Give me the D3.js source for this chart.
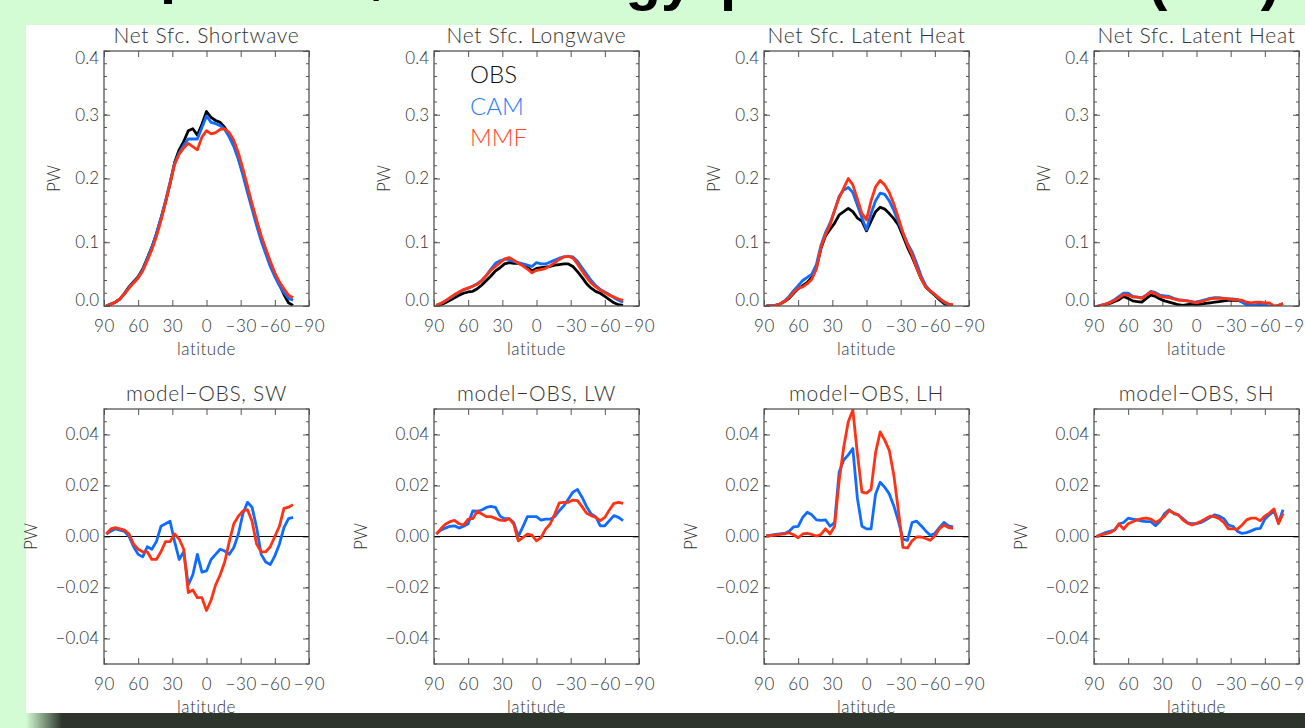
<!DOCTYPE html>
<html>
<head>
<meta charset="utf-8">
<script src="https://cdn.jsdelivr.net/npm/d3@7/dist/d3.min.js"></script>
<style>
  body { margin: 0; background: #d4fcd4; overflow: hidden; }
  svg { display: block; }
  .lbl { font-family: Lato, "DejaVu Sans", sans-serif; font-weight: 300; }
</style>
</head>
<body>
<svg id="chart" width="1305" height="728"></svg>
<script>
// latitude grid (deg), north to south
const lats = [88, 84, 80, 76, 72, 68, 64, 60, 56, 52, 48, 44, 40, 36, 32, 28, 24, 20, 16, 12, 8, 4,
              0, -4, -8, -12, -16, -20, -24, -28, -32, -36, -40, -44, -48, -52, -56, -60, -64, -68, -72, -76];

// Net surface shortwave (PW)
const swObs = [0.000, 0.003, 0.006, 0.011, 0.020, 0.030, 0.038, 0.046, 0.058, 0.075, 0.092, 0.113, 0.137, 0.163,
               0.192, 0.225, 0.245, 0.258, 0.275, 0.278, 0.268, 0.285, 0.305, 0.296, 0.291, 0.288, 0.280, 0.268,
               0.252, 0.232, 0.208, 0.182, 0.157, 0.132, 0.108, 0.088, 0.068, 0.050, 0.034, 0.018, 0.005, 0.001];
const swCam = [0.000, 0.003, 0.006, 0.011, 0.019, 0.029, 0.037, 0.045, 0.057, 0.074, 0.092, 0.113, 0.138, 0.165,
               0.194, 0.224, 0.240, 0.252, 0.262, 0.262, 0.262, 0.280, 0.298, 0.288, 0.286, 0.283, 0.277, 0.265,
               0.250, 0.230, 0.205, 0.178, 0.152, 0.126, 0.102, 0.082, 0.062, 0.046, 0.032, 0.021, 0.012, 0.009];
const swMmf = [0.000, 0.003, 0.006, 0.011, 0.019, 0.028, 0.036, 0.044, 0.055, 0.071, 0.088, 0.109, 0.134, 0.162,
               0.192, 0.222, 0.238, 0.248, 0.255, 0.250, 0.245, 0.265, 0.275, 0.270, 0.272, 0.277, 0.278, 0.272,
               0.260, 0.240, 0.215, 0.188, 0.160, 0.135, 0.110, 0.090, 0.070, 0.052, 0.038, 0.027, 0.017, 0.013];

// Net surface longwave (PW)
const lwObs = [0.000, 0.002, 0.005, 0.009, 0.013, 0.017, 0.020, 0.022, 0.023, 0.027, 0.033, 0.040, 0.047, 0.055,
               0.060, 0.066, 0.068, 0.067, 0.067, 0.065, 0.061, 0.055, 0.059, 0.060, 0.061, 0.062, 0.064, 0.065,
               0.066, 0.066, 0.062, 0.054, 0.045, 0.035, 0.028, 0.023, 0.020, 0.015, 0.010, 0.005, 0.002, 0.001];
const lwCam = [0.001, 0.004, 0.008, 0.012, 0.017, 0.021, 0.025, 0.028, 0.031, 0.035, 0.040, 0.048, 0.058, 0.067,
               0.071, 0.073, 0.073, 0.070, 0.068, 0.066, 0.064, 0.062, 0.068, 0.066, 0.066, 0.069, 0.072, 0.075,
               0.077, 0.078, 0.077, 0.070, 0.060, 0.050, 0.040, 0.032, 0.026, 0.022, 0.018, 0.013, 0.009, 0.006];
const lwMmf = [0.001, 0.004, 0.008, 0.013, 0.018, 0.022, 0.026, 0.028, 0.031, 0.034, 0.040, 0.048, 0.056, 0.062,
               0.068, 0.074, 0.076, 0.072, 0.067, 0.063, 0.058, 0.052, 0.056, 0.057, 0.059, 0.063, 0.068, 0.073,
               0.077, 0.078, 0.075, 0.066, 0.055, 0.045, 0.036, 0.030, 0.025, 0.021, 0.017, 0.014, 0.011, 0.009];

// Net surface latent heat (PW)
const lhObs = [0.000, 0.000, 0.001, 0.003, 0.007, 0.012, 0.020, 0.027, 0.032, 0.037, 0.045, 0.060, 0.090, 0.110,
               0.120, 0.130, 0.143, 0.148, 0.153, 0.148, 0.138, 0.133, 0.118, 0.133, 0.148, 0.155, 0.152, 0.145,
               0.137, 0.127, 0.110, 0.092, 0.077, 0.060, 0.043, 0.030, 0.023, 0.017, 0.010, 0.004, 0.000, -0.001];
const lhCam = [0.000, 0.000, 0.001, 0.003, 0.008, 0.015, 0.024, 0.032, 0.040, 0.045, 0.050, 0.065, 0.095, 0.115,
               0.130, 0.150, 0.172, 0.182, 0.186, 0.178, 0.158, 0.138, 0.120, 0.145, 0.165, 0.177, 0.175, 0.165,
               0.150, 0.132, 0.115, 0.098, 0.085, 0.067, 0.047, 0.032, 0.024, 0.018, 0.012, 0.006, 0.002, 0.001];
const lhMmf = [0.000, 0.000, 0.001, 0.003, 0.007, 0.013, 0.021, 0.028, 0.030, 0.035, 0.042, 0.058, 0.092, 0.112,
               0.127, 0.150, 0.170, 0.185, 0.200, 0.190, 0.168, 0.145, 0.135, 0.165, 0.187, 0.197, 0.190, 0.178,
               0.160, 0.138, 0.115, 0.096, 0.080, 0.060, 0.043, 0.030, 0.024, 0.018, 0.012, 0.007, 0.003, 0.002];

// fourth panel (sensible heat, titled as in the original) (PW)
const shObs = [-0.001, 0.000, 0.002, 0.004, 0.007, 0.010, 0.015, 0.012, 0.008, 0.007, 0.006, 0.012, 0.017, 0.015,
               0.011, 0.008, 0.006, 0.004, 0.002, 0.001, 0.002, 0.003, 0.002, 0.003, 0.004, 0.005, 0.006, 0.007,
               0.008, 0.009, 0.009, 0.009, 0.007, 0.003, 0.000, 0.001, 0.002, 0.000, -0.001, -0.002, -0.002, -0.002];
const shCam = [-0.001, 0.001, 0.003, 0.006, 0.010, 0.015, 0.020, 0.020, 0.015, 0.014, 0.013, 0.017, 0.023, 0.021,
               0.017, 0.016, 0.015, 0.012, 0.010, 0.009, 0.008, 0.006, 0.006, 0.008, 0.010, 0.012, 0.013, 0.013,
               0.012, 0.011, 0.011, 0.010, 0.006, 0.002, 0.001, 0.002, 0.003, 0.002, 0.000, -0.001, 0.001, 0.004];
const shMmf = [-0.001, 0.001, 0.003, 0.005, 0.009, 0.013, 0.018, 0.017, 0.014, 0.014, 0.012, 0.017, 0.022, 0.019,
               0.015, 0.014, 0.013, 0.011, 0.009, 0.009, 0.008, 0.007, 0.005, 0.007, 0.009, 0.011, 0.012, 0.012,
               0.012, 0.011, 0.010, 0.010, 0.009, 0.006, 0.005, 0.006, 0.006, 0.005, 0.005, 0.000, 0.001, 0.004];

// model - OBS differences (PW)
const dSwCam = [0.0010, 0.0020, 0.0030, 0.0025, 0.0020, 0.0000, -0.0040, -0.0070, -0.0080, -0.0040, -0.0050, -0.0020,
                0.0040, 0.0050, 0.0060, -0.0020, -0.0090, -0.0060, -0.0190, -0.0150, -0.0070, -0.0140, -0.0135, -0.0090,
                -0.0070, -0.0050, -0.0057, -0.0070, -0.0043, 0.0010, 0.0090, 0.0134, 0.0115, 0.0035, -0.0070, -0.0100,
                -0.0110, -0.0076, -0.0030, 0.0035, 0.0070, 0.0075];
const dSwMmf = [0.0010, 0.0030, 0.0035, 0.0030, 0.0025, 0.0010, -0.0030, -0.0050, -0.0060, -0.0060, -0.0090, -0.0090,
                -0.0060, -0.0020, -0.0020, 0.0010, -0.0010, -0.0050, -0.0220, -0.0210, -0.0240, -0.0240, -0.0290, -0.0250,
                -0.0190, -0.0150, -0.0100, -0.0020, 0.0050, 0.0080, 0.0100, 0.0105, 0.0060, -0.0030, -0.0060, -0.0060,
                -0.0040, 0.0000, 0.0040, 0.0110, 0.0115, 0.0125];
const dLwCam = [0.0010, 0.0025, 0.0033, 0.0040, 0.0042, 0.0033, 0.0040, 0.0050, 0.0100, 0.0099, 0.0104, 0.0114,
                0.0118, 0.0114, 0.0080, 0.0070, 0.0070, 0.0055, 0.0000, 0.0038, 0.0078, 0.0078, 0.0078, 0.0064,
                0.0068, 0.0068, 0.0078, 0.0101, 0.0120, 0.0147, 0.0174, 0.0184, 0.0154, 0.0117, 0.0088, 0.0078,
                0.0042, 0.0042, 0.0062, 0.0082, 0.0075, 0.0062];
const dLwMmf = [0.0010, 0.0030, 0.0048, 0.0058, 0.0063, 0.0050, 0.0045, 0.0068, 0.0070, 0.0099, 0.0088, 0.0078,
                0.0078, 0.0071, 0.0064, 0.0062, 0.0070, 0.0049, -0.0017, -0.0004, 0.0009, 0.0005, -0.0017, -0.0004,
                0.0029, 0.0049, 0.0088, 0.0132, 0.0134, 0.0134, 0.0143, 0.0141, 0.0117, 0.0091, 0.0082, 0.0075,
                0.0062, 0.0075, 0.0104, 0.0130, 0.0134, 0.0130];
const dLhCam = [0.0003, 0.0005, 0.0008, 0.0010, 0.0012, 0.0020, 0.0038, 0.0040, 0.0075, 0.0095, 0.0085, 0.0065,
                0.0063, 0.0065, 0.0040, 0.0055, 0.0253, 0.0300, 0.0320, 0.0345, 0.0150, 0.0040, 0.0030, 0.0030,
                0.0167, 0.0213, 0.0193, 0.0167, 0.0120, 0.0060, -0.0010, -0.0015, 0.0055, 0.0060, 0.0042, 0.0022,
                0.0005, 0.0012, 0.0035, 0.0055, 0.0042, 0.0038];
const dLhMmf = [0.0002, 0.0004, 0.0005, 0.0008, 0.0010, 0.0015, 0.0007, -0.0005, 0.0010, 0.0012, 0.0008, 0.0002,
                0.0008, 0.0030, 0.0010, 0.0040, 0.0220, 0.0350, 0.0450, 0.0496, 0.0325, 0.0174, 0.0170, 0.0185,
                0.0330, 0.0410, 0.0378, 0.0338, 0.0240, 0.0101, -0.0043, -0.0045, -0.0017, -0.0002, -0.0002, -0.0008,
                -0.0015, 0.0002, 0.0030, 0.0045, 0.0035, 0.0032];
const dShCam = [0.0000, 0.0008, 0.0015, 0.0020, 0.0025, 0.0050, 0.0055, 0.0072, 0.0068, 0.0065, 0.0060, 0.0058,
                0.0058, 0.0042, 0.0060, 0.0090, 0.0105, 0.0090, 0.0085, 0.0070, 0.0055, 0.0050, 0.0050, 0.0055,
                0.0065, 0.0075, 0.0085, 0.0080, 0.0070, 0.0045, 0.0040, 0.0020, 0.0012, 0.0015, 0.0022, 0.0030,
                0.0032, 0.0068, 0.0085, 0.0100, 0.0055, 0.0105];
const dShMmf = [0.0000, 0.0006, 0.0010, 0.0015, 0.0025, 0.0049, 0.0029, 0.0050, 0.0058, 0.0065, 0.0070, 0.0072,
                0.0068, 0.0055, 0.0065, 0.0080, 0.0102, 0.0092, 0.0085, 0.0065, 0.0052, 0.0045, 0.0052, 0.0060,
                0.0070, 0.0080, 0.0078, 0.0070, 0.0055, 0.0030, 0.0030, 0.0029, 0.0045, 0.0065, 0.0072, 0.0072,
                0.0062, 0.0080, 0.0092, 0.0108, 0.0050, 0.0090];

// slide title (cut off by the page top); word pieces, where each starts, and its baseline
const titleWords = ["Comparison,", "total", "energy", "partition", "of heat", "(PW)"];
const titleWordX = [31, 395, 503, 720, 1000, 1148];
const titleWordY = [-8, -8, -1, -1, -1, -1];

const topTitles = ["Net Sfc. Shortwave", "Net Sfc. Longwave", "Net Sfc. Latent Heat", "Net Sfc. Latent Heat"];
const diffTitles = ["model\u2212OBS, SW", "model\u2212OBS, LW", "model\u2212OBS, LH", "model\u2212OBS, SH"];
const legendNames = ["OBS", "CAM", "MMF"];
const xTicks = [90, 60, 30, 0, -30, -60, -90];
const topYTicks = [0, 0.1, 0.2, 0.3, 0.4];
const diffYTicks = [-0.04, -0.02, 0, 0.02, 0.04];

const lineColors = ["#000000", "#0f6cff", "#ff3314"];
const legendColors = ["#111111", "#2a7dff", "#ff4a2c"];

const topSeries = [[swObs, swCam, swMmf], [lwObs, lwCam, lwMmf], [lhObs, lhCam, lhMmf], [shObs, shCam, shMmf]];
const diffSeries = [[null, dSwCam, dSwMmf], [null, dLwCam, dLwMmf], [null, dLhCam, dLhMmf], [null, dShCam, dShMmf]];

const svg = d3.select("#chart");
const W = 1305, H = 728;

// page: green background, white sheet, dark shadow at the bottom
const defs = svg.append("defs");
const grad = defs.append("linearGradient").attr("id", "shade").attr("x1", 0).attr("x2", 1);
grad.append("stop").attr("offset", "0%").attr("stop-color", "#d4fcd4");
grad.append("stop").attr("offset", "100%").attr("stop-color", "#2c342c");

svg.append("rect").attr("width", W).attr("height", H).attr("fill", "#d4fcd4");
svg.append("rect").attr("x", 26).attr("y", 25).attr("width", W - 26).attr("height", 688).attr("fill", "#ffffff");
svg.append("rect").attr("x", 60).attr("y", 713).attr("width", W - 60).attr("height", 15).attr("fill", "#2c342c");
svg.append("rect").attr("x", 26).attr("y", 713).attr("width", 36).attr("height", 15).attr("fill", "url(#shade)");

// big slide title, cut off at the top of the page: only the descenders show
svg.append("text")
  .style("font-family", "'Liberation Sans', Arial, sans-serif")
  .style("font-weight", "bold").style("font-size", "58px").style("fill", "#000")
  .selectAll("tspan").data(titleWords).join("tspan")
  .attr("x", (d, i) => titleWordX[i])
  .attr("y", (d, i) => titleWordY[i])
  .text(d => d);

const panelW = 205, panelH = 255;
const colX = [104, 434, 764, 1094];
const rowY = [51, 409];

const x = d3.scaleLinear().domain([90, -90]).range([0, panelW]);
const yTop = d3.scaleLinear().domain([0, 0.4]).range([panelH, 0]);
const yDiff = d3.scaleLinear().domain([-0.05, 0.05]).range([panelH, 0]);

const fmtLat = d => (d < 0 ? "\u2212" : "") + Math.abs(d);
const fmtTop = d => d3.format(".1f")(d);
const fmtDiff = d => (d < 0 ? "\u2212" : "") + d3.format(".2f")(Math.abs(d));

function drawPanel(px, py, idx, y, series, title, yTicks, minorStep, fmtY, ylabOff, isDiff) {
  const g = svg.append("g").attr("transform", `translate(${px},${py})`);
  const clipId = "clip" + (isDiff ? "d" : "t") + idx;
  defs.append("clipPath").attr("id", clipId)
    .append("rect").attr("width", panelW).attr("height", panelH);

  // minor ticks on y (left and right)
  const [lo, hi] = y.domain();
  const minors = d3.range(Math.round(lo / minorStep), Math.round(hi / minorStep) + 1).map(k => k * minorStep);
  g.append("g").selectAll("line").data(minors).join("line")
    .attr("x1", 0).attr("x2", 3).attr("y1", d => y(d)).attr("y2", d => y(d))
    .attr("stroke", "#555").attr("stroke-width", 1);
  g.append("g").selectAll("line").data(minors).join("line")
    .attr("x1", panelW).attr("x2", panelW - 3).attr("y1", d => y(d)).attr("y2", d => y(d))
    .attr("stroke", "#555").attr("stroke-width", 1);

  // axes with inward major ticks
  const xb = g.append("g").attr("transform", `translate(0,${panelH})`)
    .call(d3.axisBottom(x).tickValues(xTicks).tickSizeInner(-6).tickSizeOuter(0).tickPadding(21).tickFormat(fmtLat));
  g.append("g").call(d3.axisTop(x).tickValues(xTicks).tickSizeInner(-6).tickSizeOuter(0).tickFormat(""));
  const yl = g.append("g")
    .call(d3.axisLeft(y).tickValues(yTicks).tickSizeInner(-6).tickSizeOuter(0).tickPadding(5).tickFormat(fmtY));
  g.append("g").attr("transform", `translate(${panelW},0)`)
    .call(d3.axisRight(y).tickValues(yTicks).tickSizeInner(-6).tickSizeOuter(0).tickFormat(""));

  g.selectAll(".domain").remove();
  g.selectAll(".tick line").attr("stroke", "#555").attr("stroke-width", 1);
  [xb, yl].forEach(a => a.selectAll("text")
    .attr("class", "lbl").attr("font-size", 17).style("fill", "#333"));
  xb.selectAll("text").attr("dy", "0.32em").style("letter-spacing", "0.6px");

  if (!isDiff) {
    // end labels sit inside the frame like in the original
    yl.selectAll(".tick text").attr("dy", d => d === 0.4 ? "0.72em" : d === 0 ? "-0.05em" : "0.32em");
  }

  if (isDiff) {
    g.append("line").attr("x1", 0).attr("x2", panelW).attr("y1", y(0)).attr("y2", y(0))
      .attr("stroke", "#000").attr("stroke-width", 1);
  }

  const line = d3.line().x((d, i) => x(lats[i])).y(d => y(d));
  const lines = g.append("g").attr("clip-path", `url(#${clipId})`);
  series.forEach((s, i) => {
    if (!s) return;
    lines.append("path").datum(s).attr("d", line)
      .attr("fill", "none").attr("stroke", lineColors[i]).attr("stroke-width", 2.8)
      .attr("stroke-linejoin", "round");
  });

  // frame
  g.append("rect").attr("width", panelW).attr("height", panelH)
    .attr("fill", "none").attr("stroke", "#555").attr("stroke-width", 1.3);

  g.append("text").attr("class", "lbl").attr("x", panelW / 2).attr("y", -8)
    .attr("text-anchor", "middle").attr("font-size", 21).style("fill", "#333")
    .style("letter-spacing", "0.7px").text(title);
  g.append("text").attr("class", "lbl").attr("x", panelW / 2).attr("y", panelH + 49)
    .attr("text-anchor", "middle").attr("font-size", 17).style("fill", "#333")
    .style("letter-spacing", "0.5px").text("latitude");
  g.append("text").attr("class", "lbl").style("fill", "#333")
    .attr("transform", `translate(${-ylabOff},${panelH / 2}) rotate(-90)`)
    .attr("text-anchor", "middle").attr("font-size", 17).text("PW");
  return g;
}

topSeries.forEach((s, i) => {
  const g = drawPanel(colX[i], rowY[0], i, yTop, s, topTitles[i], topYTicks, 0.02, fmtTop, 44, false);
  if (i === 1) {
    g.selectAll(".legend").data(legendNames).join("text")
      .attr("class", "lbl legend")
      .attr("x", 36).attr("y", (d, k) => 32 + k * 31.5)
      .attr("font-size", 24).style("fill", (d, k) => legendColors[k])
      .text(d => d);
  }
});
diffSeries.forEach((s, i) => {
  drawPanel(colX[i], rowY[1], i, yDiff, s, diffTitles[i], diffYTicks, 0.005, fmtDiff, 67, true);
});
</script>
</body>
</html>
